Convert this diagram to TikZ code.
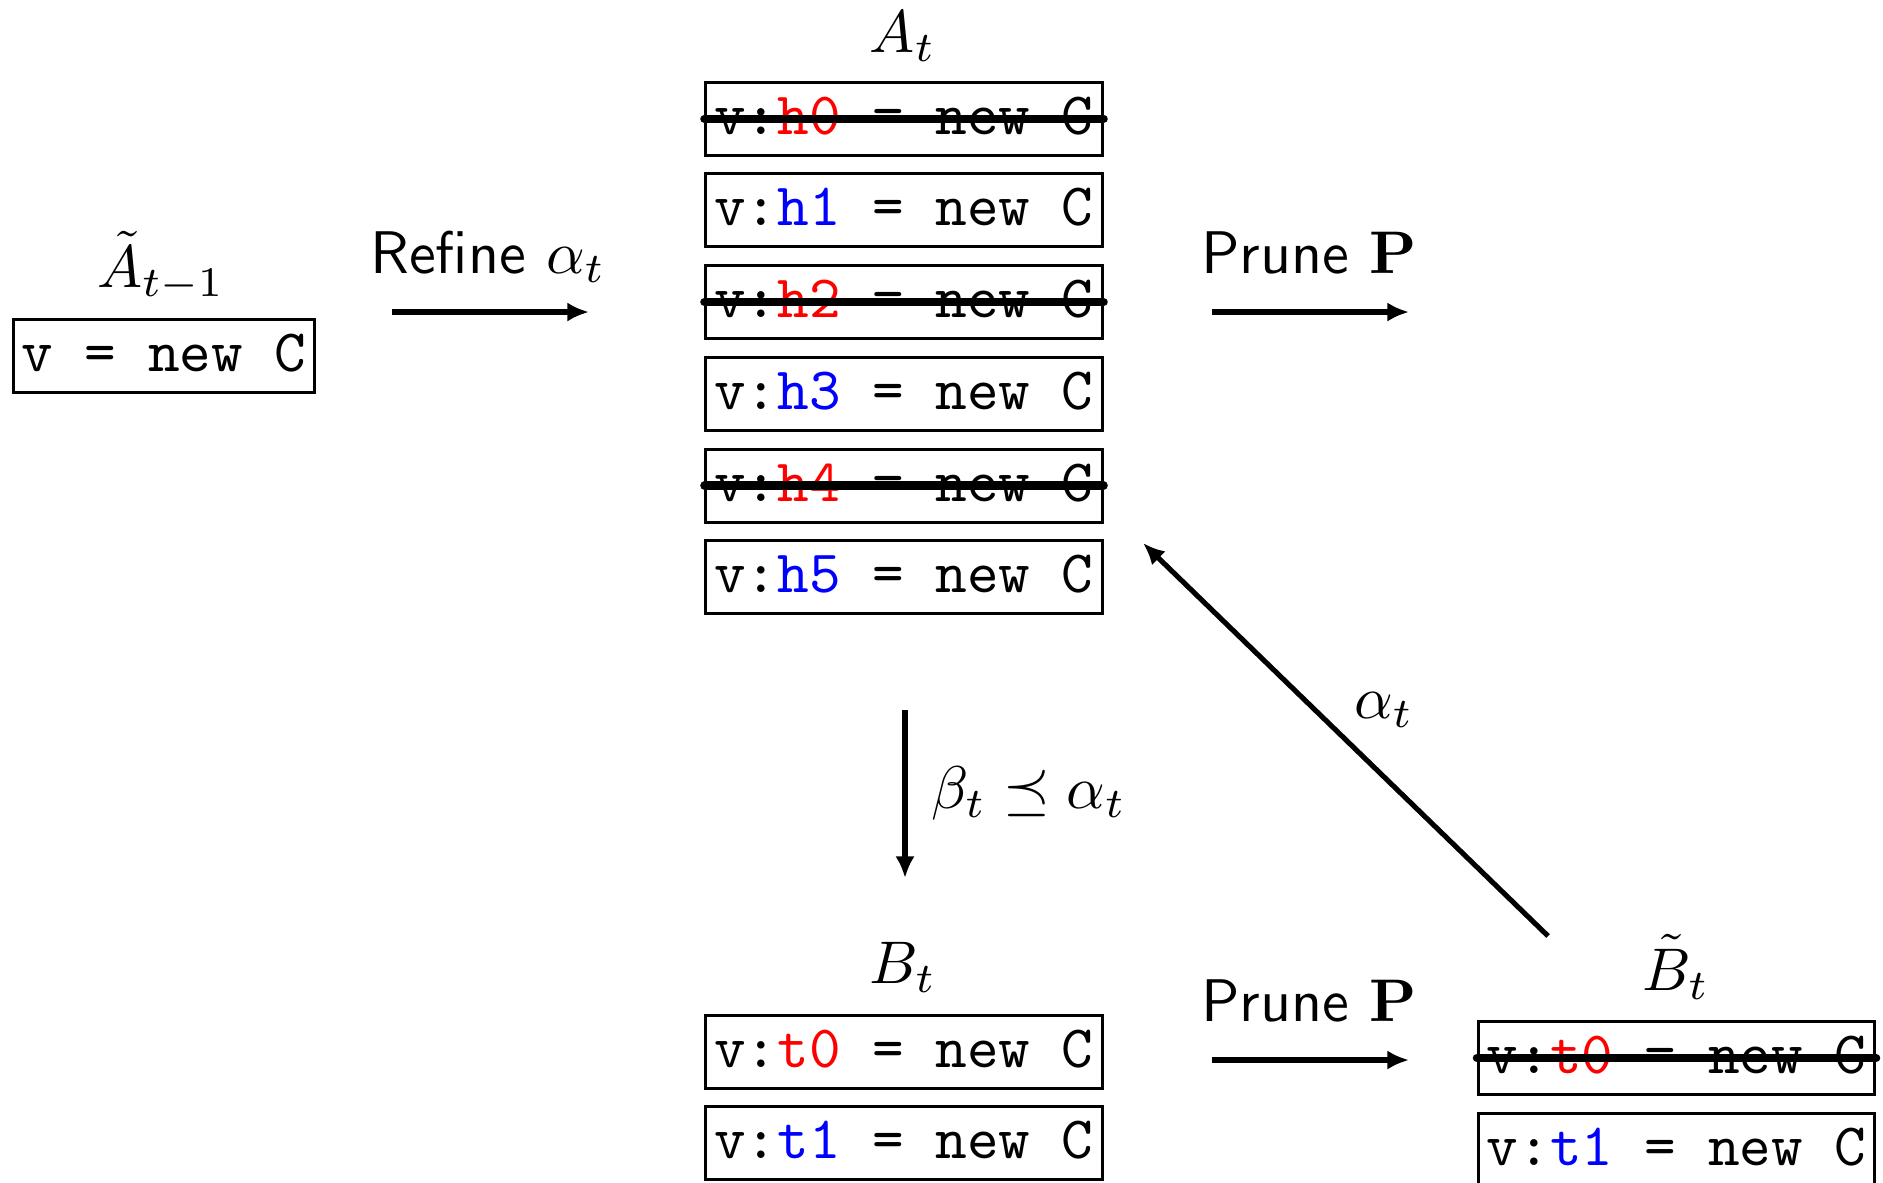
\documentclass[tikz,border=0pt]{standalone}
\usepackage{amsmath,amssymb}
\usetikzlibrary{arrows.meta}
\begin{document}
\begin{tikzpicture}[x=0.16611pt,y=-0.16611pt,
  code/.style={draw, line width=0.5pt, inner xsep=1.4pt, inner ysep=0pt,
    text height=8.64pt, text depth=3.48pt, font=\ttfamily},
  lbl/.style={inner sep=0pt, anchor=base},
  arr/.style={line width=0.85pt, -{Latex[length=3.6pt,width=3.2pt]}},
  strike/.style={line width=1.4pt, line cap=round}]
\useasboundingbox (0,0) rectangle (1883,1182);
% left
\node[code] (a0) at (164,356) {v = new C};
\node[lbl] (la0) at (161,287) {$\tilde{A}_{t-1}$};
% A_t column
\node[lbl] (lat) at (903,52) {$A_t$};
\node[code] (h0) at (904,118.7) {v:\textcolor{red}{h0} = new C};
\node[code] (h1) at (904,210.4) {v:\textcolor{blue}{h1} = new C};
\node[code] (h2) at (904,302.1) {v:\textcolor{red}{h2} = new C};
\node[code] (h3) at (904,393.8) {v:\textcolor{blue}{h3} = new C};
\node[code] (h4) at (904,485.5) {v:\textcolor{red}{h4} = new C};
\node[code] (h5) at (904,577.2) {v:\textcolor{blue}{h5} = new C};
\draw[strike] (h0.west) -- (h0.east);
\draw[strike] (h2.west) -- (h2.east);
\draw[strike] (h4.west) -- (h4.east);
% B_t column
\node[lbl] (lbt) at (903,983) {$B_t$};
\node[code] (t0) at (904,1051.5) {v:\textcolor{red}{t0} = new C};
\node[code] (t1) at (904,1142.5) {v:\textcolor{blue}{t1} = new C};
% tilde B_t column
\node[lbl] (lbtt) at (1676,990) {$\tilde{B}_t$};
\node[code] (bt0) at (1676.5,1058) {v:\textcolor{red}{t0} = new C};
\node[code] (bt1) at (1676.5,1149.5) {v:\textcolor{blue}{t1} = new C};
\draw[strike] (bt0.west) -- (bt0.east);
% arrows
\coordinate (r1) at (392,312); \coordinate (r2) at (589,312);
\draw[arr] (r1) -- (r2);
\node[lbl, font=\sffamily] (lr) at (488,273) {Refine $\alpha_t$};
\coordinate (p1) at (1212,312); \coordinate (p2) at (1409,312);
\draw[arr] (p1) -- (p2);
\node[lbl, font=\sffamily] (lp1) at (1309,273) {Prune $\mathbf{P}$};
\coordinate (q1) at (1212,1060); \coordinate (q2) at (1409,1060);
\draw[arr] (q1) -- (q2);
\node[lbl, font=\sffamily] (lp2) at (1309,1021) {Prune $\mathbf{P}$};
\coordinate (d1) at (905,710); \coordinate (d2) at (905,878);
\draw[arr] (d1) -- (d2);
\node[lbl, anchor=base west] (lb) at (930,808) {$\beta_t \preceq \alpha_t$};
\coordinate (g1) at (1548,936); \coordinate (g2) at (1143,543);
\draw[arr] (g1) -- (g2);
\node[lbl] (la) at (1384,718) {$\alpha_t$};
\end{tikzpicture}
\end{document}
